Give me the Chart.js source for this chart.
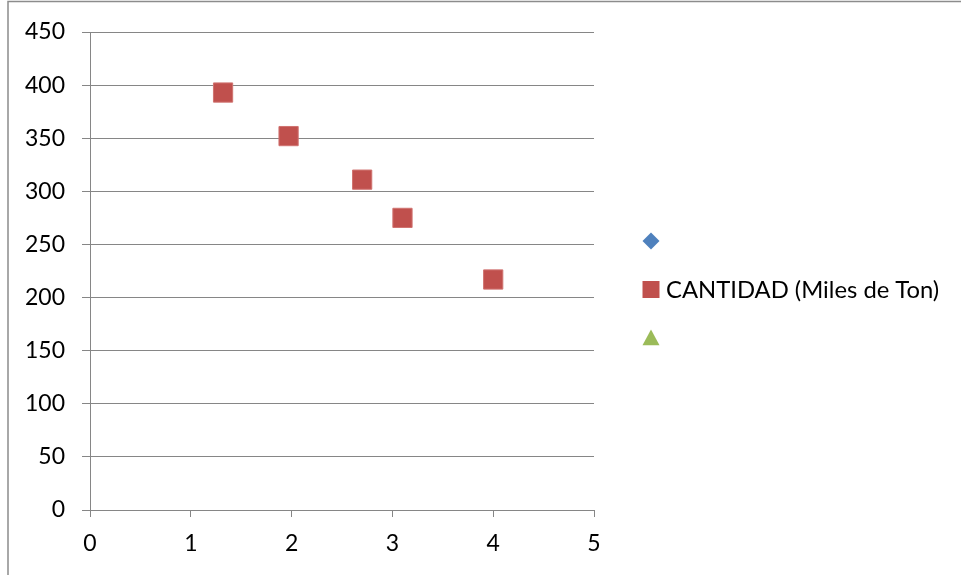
<!DOCTYPE html>
<html>
<head>
<meta charset="utf-8">
<script src="https://cdn.jsdelivr.net/npm/chart.js@4/dist/chart.umd.min.js"></script>
<style>
  html, body { margin: 0; padding: 0; background: #ffffff; }
  #wrap { width: 961px; height: 575px; position: relative; }
</style>
</head>
<body>
<div id="wrap"><canvas id="c" width="961" height="575"></canvas></div>
<script>
// Series names (the first and third series carry no name and no points)
const seriesNames = ['', 'CANTIDAD (Miles de Ton)', ''];
// Points of the CANTIDAD series
const cantidadX = [1.32, 1.97, 2.70, 3.10, 4.00];
const cantidadY = [393, 352, 311, 275, 217];
// Axis ranges and steps
const xTicks = [0, 1, 2, 3, 4, 5];
const yTicks = [0, 50, 100, 150, 200, 250, 300, 350, 400, 450];

const FONT = "Lato, 'Open Sans', sans-serif";
const GRID = '#868686';

// Frame lines of the chart object
const framePlugin = {
  id: 'frame',
  beforeDraw(chart) {
    const ctx = chart.ctx;
    ctx.save();
    ctx.strokeStyle = '#8c8c8c';
    ctx.lineWidth = 1.5;
    ctx.beginPath();
    ctx.moveTo(8, chart.height);
    ctx.lineTo(8, 1.5);
    ctx.lineTo(chart.width, 1.5);
    ctx.stroke();
    ctx.restore();
  }
};

// Legend on the right: marker plus series name, one row per dataset
const sideLegend = {
  id: 'sideLegend',
  afterDraw(chart, args, opts) {
    const ctx = chart.ctx;
    ctx.save();
    chart.data.datasets.forEach((ds, i) => {
      const x = opts.x, y = opts.y + i * opts.rowGap;
      ctx.fillStyle = ds.backgroundColor;
      ctx.beginPath();
      if (ds.pointStyle === 'rect') {
        const h = opts.box / 2;
        ctx.rect(x - h, y - h, 2 * h, 2 * h);
      } else if (ds.pointStyle === 'rectRot') {
        const h = opts.box / 2;
        ctx.moveTo(x, y - h); ctx.lineTo(x + h, y);
        ctx.lineTo(x, y + h); ctx.lineTo(x - h, y);
        ctx.closePath();
      } else if (ds.pointStyle === 'triangle') {
        const h = opts.box / 2;
        ctx.moveTo(x, y - h); ctx.lineTo(x + h, y + h * 0.85);
        ctx.lineTo(x - h, y + h * 0.85);
        ctx.closePath();
      }
      ctx.fill();
      if (ds.label) {
        ctx.fillStyle = '#000000';
        ctx.font = opts.font;
        ctx.textAlign = 'left';
        ctx.textBaseline = 'middle';
        ctx.fillText(ds.label, x + opts.textGap, y + 1);
      }
    });
    ctx.restore();
  }
};

new Chart(document.getElementById('c'), {
  type: 'scatter',
  data: {
    datasets: [
      {
        label: seriesNames[0],
        data: [],
        pointStyle: 'rectRot',
        backgroundColor: '#4F81BD',
        borderColor: '#4F81BD'
      },
      {
        label: seriesNames[1],
        data: cantidadX.map((x, i) => ({ x: x, y: cantidadY[i] })),
        pointStyle: 'rect',
        pointRadius: 13.6,
        pointHoverRadius: 13.6,
        pointBorderWidth: 1,
        backgroundColor: '#C0504D',
        borderColor: '#D07370'
      },
      {
        label: seriesNames[2],
        data: [],
        pointStyle: 'triangle',
        backgroundColor: '#9BBB59',
        borderColor: '#9BBB59'
      }
    ]
  },
  options: {
    responsive: false,
    animation: false,
    devicePixelRatio: 1,
    layout: { padding: { top: 32, right: 367, bottom: 0, left: 0 } },
    plugins: {
      legend: { display: false },
      tooltip: { enabled: false },
      sideLegend: { x: 651, y: 241, rowGap: 48.5, box: 17, textGap: 15, font: '23.8px ' + FONT }
    },
    scales: {
      x: {
        type: 'linear',
        min: xTicks[0],
        max: xTicks[xTicks.length - 1],
        afterFit(scale) { scale.height = 65; },
        afterBuildTicks(scale) { scale.ticks = xTicks.map(v => ({ value: v })); },
        ticks: { color: '#000000', font: { family: FONT, size: 23 }, padding: 13, maxRotation: 0 },
        grid: { drawOnChartArea: false, drawTicks: true, tickLength: 7, color: GRID, lineWidth: 1 },
        border: { display: true, color: GRID, width: 1 }
      },
      y: {
        type: 'linear',
        min: yTicks[0],
        max: yTicks[yTicks.length - 1],
        afterFit(scale) { scale.width = 90; },
        afterBuildTicks(scale) { scale.ticks = yTicks.map(v => ({ value: v })); },
        ticks: { color: '#000000', font: { family: FONT, size: 23 }, padding: 17 },
        grid: { drawOnChartArea: true, drawTicks: true, tickLength: 8, color: GRID, lineWidth: 1 },
        border: { display: true, color: GRID, width: 1 }
      }
    }
  },
  plugins: [framePlugin, sideLegend]
});
</script>
</body>
</html>
